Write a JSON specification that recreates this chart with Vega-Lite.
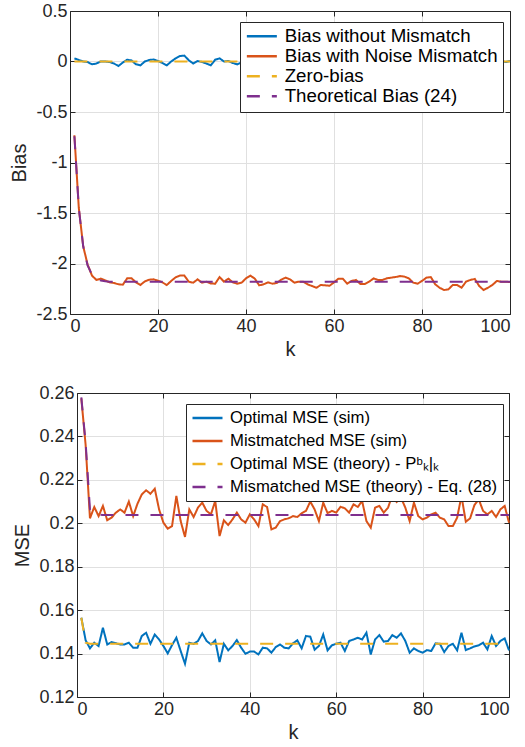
{
  "$schema": "https://vega.github.io/schema/vega-lite/v6.json",
  "padding": {"left": 9, "top": 2, "right": 0, "bottom": 0},
  "background": "white",
  "spacing": 25,
  "datasets": {
    "bias": [
      {"k":1,"a":0.031,"b":-0.73,"c":0,"d":-0.74},
      {"k":2,"a":0.015,"b":-1.45,"c":0,"d":-1.45},
      {"k":3,"a":0,"b":-1.83,"c":0,"d":-1.83},
      {"k":4,"a":-0.005,"b":-2.01,"c":0,"d":-2.02},
      {"k":5,"a":-0.028,"b":-2.12,"c":0,"d":-2.11},
      {"k":6,"a":-0.02,"b":-2.163,"c":0,"d":-2.15},
      {"k":7,"a":0,"b":-2.15,"c":0,"d":-2.168},
      {"k":8,"a":0,"b":-2.167,"c":0,"d":-2.175},
      {"k":9,"a":-0.005,"b":-2.187,"c":0,"d":-2.18},
      {"k":10,"a":-0.02,"b":-2.193,"c":0,"d":-2.18},
      {"k":11,"a":-0.045,"b":-2.206,"c":0,"d":-2.18},
      {"k":12,"a":-0.01,"b":-2.21,"c":0,"d":-2.18},
      {"k":13,"a":0.018,"b":-2.147,"c":0,"d":-2.18},
      {"k":14,"a":0.01,"b":-2.147,"c":0,"d":-2.18},
      {"k":15,"a":-0.028,"b":-2.187,"c":0,"d":-2.18},
      {"k":16,"a":-0.038,"b":-2.213,"c":0,"d":-2.18},
      {"k":17,"a":0,"b":-2.177,"c":0,"d":-2.18},
      {"k":18,"a":0.015,"b":-2.16,"c":0,"d":-2.18},
      {"k":19,"a":0.02,"b":-2.157,"c":0,"d":-2.18},
      {"k":20,"a":0.005,"b":-2.17,"c":0,"d":-2.18},
      {"k":21,"a":-0.015,"b":-2.187,"c":0,"d":-2.18},
      {"k":22,"a":-0.038,"b":-2.213,"c":0,"d":-2.18},
      {"k":23,"a":0,"b":-2.173,"c":0,"d":-2.18},
      {"k":24,"a":0.031,"b":-2.137,"c":0,"d":-2.18},
      {"k":25,"a":0.054,"b":-2.12,"c":0,"d":-2.18},
      {"k":26,"a":0.058,"b":-2.12,"c":0,"d":-2.18},
      {"k":27,"a":0.012,"b":-2.18,"c":0,"d":-2.18},
      {"k":28,"a":-0.02,"b":-2.19,"c":0,"d":-2.18},
      {"k":29,"a":0.005,"b":-2.157,"c":0,"d":-2.18},
      {"k":30,"a":-0.005,"b":-2.19,"c":0,"d":-2.18},
      {"k":31,"a":-0.02,"b":-2.18,"c":0,"d":-2.18},
      {"k":32,"a":-0.038,"b":-2.197,"c":0,"d":-2.18},
      {"k":33,"a":0.018,"b":-2.2,"c":0,"d":-2.18},
      {"k":34,"a":0.031,"b":-2.134,"c":0,"d":-2.18},
      {"k":35,"a":0,"b":-2.18,"c":0,"d":-2.18},
      {"k":36,"a":0.005,"b":-2.15,"c":0,"d":-2.18},
      {"k":37,"a":-0.015,"b":-2.187,"c":0,"d":-2.18},
      {"k":38,"a":-0.028,"b":-2.2,"c":0,"d":-2.18},
      {"k":39,"a":-0.01,"b":-2.19,"c":0,"d":-2.18},
      {"k":40,"a":0.012,"b":-2.147,"c":0,"d":-2.18},
      {"k":41,"a":0.025,"b":-2.12,"c":0,"d":-2.18},
      {"k":42,"a":-0.008,"b":-2.15,"c":0,"d":-2.18},
      {"k":43,"a":-0.03,"b":-2.216,"c":0,"d":-2.18},
      {"k":44,"a":0.004,"b":-2.206,"c":0,"d":-2.18},
      {"k":45,"a":0.018,"b":-2.187,"c":0,"d":-2.18},
      {"k":46,"a":-0.012,"b":-2.2,"c":0,"d":-2.18},
      {"k":47,"a":0.006,"b":-2.193,"c":0,"d":-2.18},
      {"k":48,"a":0.022,"b":-2.16,"c":0,"d":-2.18},
      {"k":49,"a":-0.015,"b":-2.14,"c":0,"d":-2.18},
      {"k":50,"a":-0.026,"b":-2.157,"c":0,"d":-2.18},
      {"k":51,"a":0.01,"b":-2.19,"c":0,"d":-2.18},
      {"k":52,"a":0.03,"b":-2.18,"c":0,"d":-2.18},
      {"k":53,"a":0.002,"b":-2.18,"c":0,"d":-2.18},
      {"k":54,"a":-0.02,"b":-2.206,"c":0,"d":-2.18},
      {"k":55,"a":-0.034,"b":-2.223,"c":0,"d":-2.18},
      {"k":56,"a":0.008,"b":-2.24,"c":0,"d":-2.18},
      {"k":57,"a":0.015,"b":-2.213,"c":0,"d":-2.18},
      {"k":58,"a":-0.005,"b":-2.216,"c":0,"d":-2.18},
      {"k":59,"a":0.02,"b":-2.22,"c":0,"d":-2.18},
      {"k":60,"a":-0.012,"b":-2.187,"c":0,"d":-2.18},
      {"k":61,"a":-0.025,"b":-2.15,"c":0,"d":-2.18},
      {"k":62,"a":0.004,"b":-2.15,"c":0,"d":-2.18},
      {"k":63,"a":0.028,"b":-2.2,"c":0,"d":-2.18},
      {"k":64,"a":0.012,"b":-2.173,"c":0,"d":-2.18},
      {"k":65,"a":-0.018,"b":-2.163,"c":0,"d":-2.18},
      {"k":66,"a":0.006,"b":-2.203,"c":0,"d":-2.18},
      {"k":67,"a":-0.01,"b":-2.203,"c":0,"d":-2.18},
      {"k":68,"a":0.02,"b":-2.18,"c":0,"d":-2.18},
      {"k":69,"a":0.035,"b":-2.147,"c":0,"d":-2.18},
      {"k":70,"a":0.01,"b":-2.163,"c":0,"d":-2.18},
      {"k":71,"a":-0.022,"b":-2.163,"c":0,"d":-2.18},
      {"k":72,"a":-0.006,"b":-2.147,"c":0,"d":-2.18},
      {"k":73,"a":0.014,"b":-2.14,"c":0,"d":-2.18},
      {"k":74,"a":-0.028,"b":-2.134,"c":0,"d":-2.18},
      {"k":75,"a":0.002,"b":-2.124,"c":0,"d":-2.18},
      {"k":76,"a":0.024,"b":-2.13,"c":0,"d":-2.18},
      {"k":77,"a":0.008,"b":-2.147,"c":0,"d":-2.18},
      {"k":78,"a":-0.016,"b":-2.19,"c":0,"d":-2.18},
      {"k":79,"a":-0.03,"b":-2.2,"c":0,"d":-2.18},
      {"k":80,"a":0.005,"b":-2.173,"c":0,"d":-2.18},
      {"k":81,"a":0.018,"b":-2.14,"c":0,"d":-2.18},
      {"k":82,"a":-0.004,"b":-2.134,"c":0,"d":-2.18},
      {"k":83,"a":0.012,"b":-2.206,"c":0,"d":-2.18},
      {"k":84,"a":-0.02,"b":-2.24,"c":0,"d":-2.18},
      {"k":85,"a":0.026,"b":-2.263,"c":0,"d":-2.18},
      {"k":86,"a":0.01,"b":-2.256,"c":0,"d":-2.18},
      {"k":87,"a":-0.014,"b":-2.213,"c":0,"d":-2.18},
      {"k":88,"a":-0.024,"b":-2.213,"c":0,"d":-2.18},
      {"k":89,"a":0.006,"b":-2.24,"c":0,"d":-2.18},
      {"k":90,"a":0.02,"b":-2.18,"c":0,"d":-2.18},
      {"k":91,"a":-0.008,"b":-2.163,"c":0,"d":-2.18},
      {"k":92,"a":0.015,"b":-2.153,"c":0,"d":-2.18},
      {"k":93,"a":-0.018,"b":-2.223,"c":0,"d":-2.18},
      {"k":94,"a":0.003,"b":-2.263,"c":0,"d":-2.18},
      {"k":95,"a":0.022,"b":-2.24,"c":0,"d":-2.18},
      {"k":96,"a":0.004,"b":-2.213,"c":0,"d":-2.18},
      {"k":97,"a":-0.005,"b":-2.173,"c":0,"d":-2.18},
      {"k":98,"a":0.005,"b":-2.18,"c":0,"d":-2.18},
      {"k":99,"a":-0.005,"b":-2.18,"c":0,"d":-2.18},
      {"k":100,"a":0.005,"b":-2.183,"c":0,"d":-2.18}
    ],
    "mse": [
      {"k":1,"a":0.1565,"b":0.2575,"c":0.1565,"d":0.258},
      {"k":2,"a":0.1461,"b":0.236,"c":0.145,"d":0.237},
      {"k":3,"a":0.1424,"b":0.2023,"c":0.1445,"d":0.2065},
      {"k":4,"a":0.145,"b":0.2075,"c":0.1445,"d":0.2042},
      {"k":5,"a":0.1435,"b":0.2033,"c":0.1445,"d":0.204},
      {"k":6,"a":0.1519,"b":0.208,"c":0.1445,"d":0.2038},
      {"k":7,"a":0.1442,"b":0.2014,"c":0.1445,"d":0.2038},
      {"k":8,"a":0.1453,"b":0.2026,"c":0.1445,"d":0.2038},
      {"k":9,"a":0.1448,"b":0.2049,"c":0.1445,"d":0.2038},
      {"k":10,"a":0.1442,"b":0.2064,"c":0.1445,"d":0.2038},
      {"k":11,"a":0.1442,"b":0.2049,"c":0.1445,"d":0.2038},
      {"k":12,"a":0.145,"b":0.21,"c":0.1445,"d":0.2038},
      {"k":13,"a":0.1427,"b":0.2033,"c":0.1445,"d":0.2038},
      {"k":14,"a":0.1427,"b":0.209,"c":0.1445,"d":0.2038},
      {"k":15,"a":0.1481,"b":0.2133,"c":0.1445,"d":0.2038},
      {"k":16,"a":0.1496,"b":0.2152,"c":0.1445,"d":0.2038},
      {"k":17,"a":0.1445,"b":0.2136,"c":0.1445,"d":0.2038},
      {"k":18,"a":0.1488,"b":0.2159,"c":0.1445,"d":0.2038},
      {"k":19,"a":0.1465,"b":0.2064,"c":0.1445,"d":0.2038},
      {"k":20,"a":0.1435,"b":0.2003,"c":0.1445,"d":0.2038},
      {"k":21,"a":0.1401,"b":0.1975,"c":0.1445,"d":0.2038},
      {"k":22,"a":0.1439,"b":0.1987,"c":0.1445,"d":0.2038},
      {"k":23,"a":0.1473,"b":0.2126,"c":0.1445,"d":0.2038},
      {"k":24,"a":0.1412,"b":0.201,"c":0.1445,"d":0.2038},
      {"k":25,"a":0.1353,"b":0.1937,"c":0.1445,"d":0.2038},
      {"k":26,"a":0.145,"b":0.2064,"c":0.1445,"d":0.2038},
      {"k":27,"a":0.1445,"b":0.2029,"c":0.1445,"d":0.2038},
      {"k":28,"a":0.1458,"b":0.2072,"c":0.1445,"d":0.2038},
      {"k":29,"a":0.1493,"b":0.2095,"c":0.1445,"d":0.2038},
      {"k":30,"a":0.1458,"b":0.2057,"c":0.1445,"d":0.2038},
      {"k":31,"a":0.1442,"b":0.2041,"c":0.1445,"d":0.2038},
      {"k":32,"a":0.1461,"b":0.2103,"c":0.1445,"d":0.2038},
      {"k":33,"a":0.1361,"b":0.1941,"c":0.1445,"d":0.2038},
      {"k":34,"a":0.1445,"b":0.2014,"c":0.1445,"d":0.2038},
      {"k":35,"a":0.1415,"b":0.1992,"c":0.1445,"d":0.2038},
      {"k":36,"a":0.1435,"b":0.2018,"c":0.1445,"d":0.2038},
      {"k":37,"a":0.1462,"b":0.2049,"c":0.1445,"d":0.2038},
      {"k":38,"a":0.1427,"b":0.2018,"c":0.1445,"d":0.2038},
      {"k":39,"a":0.1399,"b":0.2003,"c":0.1445,"d":0.2038},
      {"k":40,"a":0.1409,"b":0.2041,"c":0.1445,"d":0.2038},
      {"k":41,"a":0.1409,"b":0.2018,"c":0.1445,"d":0.2038},
      {"k":42,"a":0.1396,"b":0.1987,"c":0.1445,"d":0.2038},
      {"k":43,"a":0.1427,"b":0.2087,"c":0.1445,"d":0.2038},
      {"k":44,"a":0.1424,"b":0.2075,"c":0.1445,"d":0.2038},
      {"k":45,"a":0.1404,"b":0.1972,"c":0.1445,"d":0.2038},
      {"k":46,"a":0.143,"b":0.198,"c":0.1445,"d":0.2038},
      {"k":47,"a":0.1442,"b":0.201,"c":0.1445,"d":0.2038},
      {"k":48,"a":0.1427,"b":0.2018,"c":0.1445,"d":0.2038},
      {"k":49,"a":0.1424,"b":0.2023,"c":0.1445,"d":0.2038},
      {"k":50,"a":0.1447,"b":0.2033,"c":0.1445,"d":0.2038},
      {"k":51,"a":0.1461,"b":0.2029,"c":0.1445,"d":0.2038},
      {"k":52,"a":0.1424,"b":0.2046,"c":0.1445,"d":0.2038},
      {"k":53,"a":0.1481,"b":0.2057,"c":0.1445,"d":0.2038},
      {"k":54,"a":0.1478,"b":0.21,"c":0.1445,"d":0.2038},
      {"k":55,"a":0.1418,"b":0.2064,"c":0.1445,"d":0.2038},
      {"k":56,"a":0.1435,"b":0.201,"c":0.1445,"d":0.2038},
      {"k":57,"a":0.1488,"b":0.2095,"c":0.1445,"d":0.2038},
      {"k":58,"a":0.1415,"b":0.2047,"c":0.1445,"d":0.2038},
      {"k":59,"a":0.1438,"b":0.2057,"c":0.1445,"d":0.2038},
      {"k":60,"a":0.1445,"b":0.2049,"c":0.1445,"d":0.2038},
      {"k":61,"a":0.145,"b":0.2076,"c":0.1445,"d":0.2038},
      {"k":62,"a":0.1412,"b":0.2069,"c":0.1445,"d":0.2038},
      {"k":63,"a":0.1458,"b":0.2049,"c":0.1445,"d":0.2038},
      {"k":64,"a":0.1465,"b":0.2087,"c":0.1445,"d":0.2038},
      {"k":65,"a":0.1473,"b":0.2075,"c":0.1445,"d":0.2038},
      {"k":66,"a":0.1465,"b":0.2103,"c":0.1445,"d":0.2038},
      {"k":67,"a":0.1496,"b":0.201,"c":0.1445,"d":0.2038},
      {"k":68,"a":0.1396,"b":0.198,"c":0.1445,"d":0.2038},
      {"k":69,"a":0.1465,"b":0.2072,"c":0.1445,"d":0.2038},
      {"k":70,"a":0.1485,"b":0.208,"c":0.1445,"d":0.2038},
      {"k":71,"a":0.1455,"b":0.2049,"c":0.1445,"d":0.2038},
      {"k":72,"a":0.1458,"b":0.2072,"c":0.1445,"d":0.2038},
      {"k":73,"a":0.1485,"b":0.213,"c":0.1445,"d":0.2038},
      {"k":74,"a":0.1473,"b":0.2098,"c":0.1445,"d":0.2038},
      {"k":75,"a":0.1493,"b":0.2118,"c":0.1445,"d":0.2038},
      {"k":76,"a":0.1458,"b":0.2072,"c":0.1445,"d":0.2038},
      {"k":77,"a":0.1404,"b":0.201,"c":0.1445,"d":0.2038},
      {"k":78,"a":0.1424,"b":0.2095,"c":0.1445,"d":0.2038},
      {"k":79,"a":0.1412,"b":0.2033,"c":0.1445,"d":0.2038},
      {"k":80,"a":0.1404,"b":0.2018,"c":0.1445,"d":0.2038},
      {"k":81,"a":0.1416,"b":0.2026,"c":0.1445,"d":0.2038},
      {"k":82,"a":0.1412,"b":0.2041,"c":0.1445,"d":0.2038},
      {"k":83,"a":0.1447,"b":0.2049,"c":0.1445,"d":0.2038},
      {"k":84,"a":0.1445,"b":0.2026,"c":0.1445,"d":0.2038},
      {"k":85,"a":0.1407,"b":0.2018,"c":0.1445,"d":0.2038},
      {"k":86,"a":0.1435,"b":0.1987,"c":0.1445,"d":0.2038},
      {"k":87,"a":0.1445,"b":0.1987,"c":0.1445,"d":0.2038},
      {"k":88,"a":0.1415,"b":0.2026,"c":0.1445,"d":0.2038},
      {"k":89,"a":0.1496,"b":0.2126,"c":0.1445,"d":0.2038},
      {"k":90,"a":0.1416,"b":0.2007,"c":0.1445,"d":0.2038},
      {"k":91,"a":0.1424,"b":0.2023,"c":0.1445,"d":0.2038},
      {"k":92,"a":0.1433,"b":0.2084,"c":0.1445,"d":0.2038},
      {"k":93,"a":0.1438,"b":0.211,"c":0.1445,"d":0.2038},
      {"k":94,"a":0.145,"b":0.2057,"c":0.1445,"d":0.2038},
      {"k":95,"a":0.1419,"b":0.2041,"c":0.1445,"d":0.2038},
      {"k":96,"a":0.1481,"b":0.2057,"c":0.1445,"d":0.2038},
      {"k":97,"a":0.1435,"b":0.2029,"c":0.1445,"d":0.2038},
      {"k":98,"a":0.1458,"b":0.2064,"c":0.1445,"d":0.2038},
      {"k":99,"a":0.147,"b":0.208,"c":0.1445,"d":0.2038},
      {"k":100,"a":0.1415,"b":0.2003,"c":0.1445,"d":0.2038}
    ]
  },
  "resolve": {
    "scale": {"color": "independent", "strokeDash": "independent"},
    "legend": {"color": "independent", "strokeDash": "independent"}
  },
  "vconcat": [
    {
      "width": 440,
      "height": 303,
      "data": {"name": "bias"},
      "transform": [{"fold": ["a", "b", "c", "d"], "as": ["s", "v"]}],
      "encoding": {
        "color": {"field": "s", "type": "nominal",
                  "scale": {"domain": ["a", "b", "c", "d"], "range": ["#0072BD", "#D95319", "#EDB120", "#7E2F8E"]},
                  "legend": {"title": null, "orient": "none", "legendX": 170, "legendY": 11, "rowPadding": 0, "labelFontSize": 18.7,
                             "labelExpr": "datum.label == 'a' ? 'Bias without Mismatch' : datum.label == 'b' ? 'Bias with Noise Mismatch' : datum.label == 'c' ? 'Zero-bias' : 'Theoretical Bias (24)'"}},
        "strokeDash": {"field": "s", "type": "nominal",
                       "scale": {"domain": ["a", "b", "c", "d"], "range": [[1, 0], [1, 0], [13, 12], [13, 12]]},
                       "legend": {"title": null, "orient": "none", "legendX": 170, "legendY": 11, "rowPadding": 0, "labelFontSize": 18.7,
                                  "labelExpr": "datum.label == 'a' ? 'Bias without Mismatch' : datum.label == 'b' ? 'Bias with Noise Mismatch' : datum.label == 'c' ? 'Zero-bias' : 'Theoretical Bias (24)'"}}
      },
      "layer": [
        {
          "transform": [{"filter": "datum.s == 'a' || datum.s == 'b'"}],
          "mark": {"type": "line", "strokeWidth": 2},
          "encoding": {
            "x": {"field": "k", "type": "quantitative", "scale": {"domain": [0, 100], "nice": false},
                  "axis": {"title": "k", "values": [0, 20, 40, 60, 80, 100]}},
            "y": {"field": "v", "type": "quantitative", "scale": {"domain": [-2.5, 0.5], "nice": false, "zero": false},
                  "axis": {"title": "Bias", "values": [-2.5, -2, -1.5, -1, -0.5, 0, 0.5], "labelExpr": "datum.value + ''"}}
          }
        },
        {
          "transform": [{"filter": "datum.s == 'c' || datum.s == 'd'"}],
          "mark": {"type": "line", "strokeWidth": 2},
          "encoding": {
            "x": {"field": "k", "type": "quantitative",
                  "axis": {"orient": "top", "labels": false, "title": null, "grid": false, "values": [0, 20, 40, 60, 80, 100]}},
            "y": {"field": "v", "type": "quantitative",
                  "axis": {"orient": "right", "labels": false, "title": null, "grid": false, "values": [-2.5, -2, -1.5, -1, -0.5, 0, 0.5]}}
          }
        }
      ],
      "resolve": {"axis": {"x": "independent", "y": "independent"}}
    },
    {
      "width": 439,
      "height": 304,
      "data": {"name": "mse"},
      "transform": [{"fold": ["a", "b", "c", "d"], "as": ["s", "v"]}],
      "encoding": {
        "color": {"field": "s", "type": "nominal",
                  "scale": {"domain": ["a", "b", "c", "d"], "range": ["#0072BD", "#D95319", "#EDB120", "#7E2F8E"]},
                  "legend": {"title": null, "orient": "none", "legendX": 116, "legendY": 11, "rowPadding": 5, "labelFontSize": 16.7,
                             "labelExpr": "datum.label == 'a' ? 'Optimal MSE (sim)' : datum.label == 'b' ? 'Mistmatched MSE (sim)' : datum.label == 'c' ? 'Optimal MSE (theory) - Pᵇₖ|ₖ' : 'Mismatched MSE (theory) - Eq. (28)'"}},
        "strokeDash": {"field": "s", "type": "nominal",
                       "scale": {"domain": ["a", "b", "c", "d"], "range": [[1, 0], [1, 0], [13, 12], [13, 12]]},
                       "legend": {"title": null, "orient": "none", "legendX": 116, "legendY": 11, "rowPadding": 5, "labelFontSize": 16.7,
                                  "labelExpr": "datum.label == 'a' ? 'Optimal MSE (sim)' : datum.label == 'b' ? 'Mistmatched MSE (sim)' : datum.label == 'c' ? 'Optimal MSE (theory) - Pᵇₖ|ₖ' : 'Mismatched MSE (theory) - Eq. (28)'"}}
      },
      "layer": [
        {
          "transform": [{"filter": "datum.s == 'a' || datum.s == 'b'"}],
          "mark": {"type": "line", "strokeWidth": 2},
          "encoding": {
            "x": {"field": "k", "type": "quantitative", "scale": {"domain": [0, 100], "nice": false, "range": [7, 439]},
                  "axis": {"title": "k", "values": [0, 20, 40, 60, 80, 100]}},
            "y": {"field": "v", "type": "quantitative", "scale": {"domain": [0.12, 0.26], "nice": false, "zero": false},
                  "axis": {"title": "MSE", "offset": -7, "values": [0.12, 0.14, 0.16, 0.18, 0.2, 0.22, 0.24, 0.26], "labelExpr": "datum.value + ''"}}
          }
        },
        {
          "transform": [{"filter": "datum.s == 'c' || datum.s == 'd'"}],
          "mark": {"type": "line", "strokeWidth": 2},
          "encoding": {
            "x": {"field": "k", "type": "quantitative",
                  "axis": {"orient": "top", "labels": false, "title": null, "grid": false, "values": [0, 20, 40, 60, 80, 100]}},
            "y": {"field": "v", "type": "quantitative",
                  "axis": {"orient": "right", "labels": false, "title": null, "grid": false, "values": [0.12, 0.14, 0.16, 0.18, 0.2, 0.22, 0.24, 0.26]}}
          }
        }
      ],
      "resolve": {"axis": {"x": "independent", "y": "independent"}}
    }
  ],
  "config": {
    "font": "Liberation Sans",
    "view": {"stroke": null},
    "axis": {
      "labelFont": "Liberation Sans", "labelFontSize": 18, "labelColor": "#262626",
      "titleFont": "Liberation Sans", "titleFontSize": 20, "titleFontWeight": "normal", "titleColor": "#262626",
      "domainColor": "#262626", "tickColor": "#262626", "tickSize": -5,
      "gridColor": "#e0e0e0", "gridWidth": 1
    },
    "axisX": {"labelPadding": 8, "titlePadding": 4},
    "axisY": {"labelPadding": 8, "titlePadding": 6},
    "legend": {
      "symbolType": "M-1,0H3", "symbolSize": 225, "symbolStrokeWidth": 2.5,
      "labelFont": "Liberation Sans", "labelColor": "#000000", "labelLimit": 400,
      "labelOffset": 21, "padding": 5, "strokeColor": "#262626", "fillColor": "white", "cornerRadius": 0
    }
  }
}
